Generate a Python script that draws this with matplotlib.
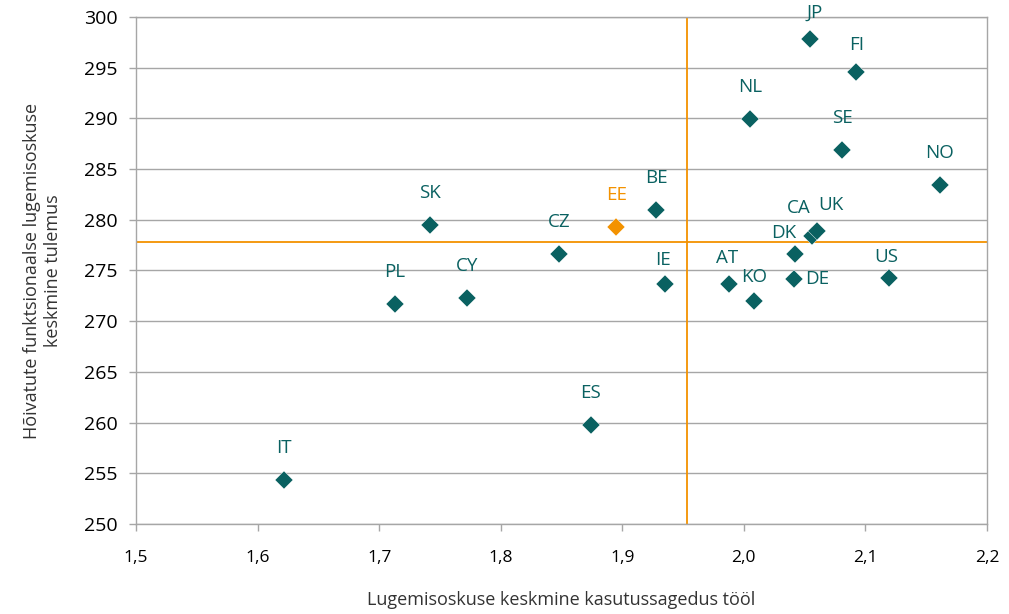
import numpy as np
import matplotlib.pyplot as plt

# riigid ja väärtused (loetud jooniselt)
countries = ['IT', 'PL', 'SK', 'CY', 'CZ', 'ES', 'BE', 'IE', 'AT', 'KO', 'NL',
             'DK', 'DE', 'CA', 'UK', 'JP', 'SE', 'FI', 'US', 'NO']
usage = [1.622, 1.713, 1.742, 1.772, 1.848, 1.874, 1.928, 1.935, 1.988, 2.008,
         2.005, 2.042, 2.041, 2.056, 2.060, 2.054, 2.081, 2.092, 2.119, 2.161]
score = [254.3, 271.7, 279.5, 272.3, 276.6, 259.8, 281.0, 273.7, 273.7, 272.0,
         289.9, 276.6, 274.2, 278.4, 278.9, 297.8, 286.9, 294.6, 274.3, 283.4]
ee_usage = 1.895
ee_score = 279.3
avg_usage = 1.953
avg_score = 277.8

xticks = [1.5, 1.6, 1.7, 1.8, 1.9, 2.0, 2.1, 2.2]
yticks = list(range(250, 301, 5))

teal = '#0A6161'
orange = '#F39200'
grey = '#A6A6A6'

# sildi nihked pikslites (vaikimisi otse üleval)
offsets = {'CA': (-13, 28), 'UK': (14, 26), 'DK': (-11, 21), 'DE': (23, 0),
           'US': (-2, 21), 'AT': (-2, 26), 'KO': (1, 24), 'IE': (-2, 24),
           'JP': (5, 27), 'FI': (1, 27)}

plt.rcParams['font.family'] = ['Open Sans', 'DejaVu Sans']

fig = plt.figure(figsize=(10.09, 6.14), dpi=100)
ax = fig.add_axes([0.1348, 0.1466, 0.8434, 0.8257])

ax.set_xlim(1.5, 2.2)
ax.set_ylim(250, 300)
ax.set_xticks(xticks)
ax.set_xticklabels([f'{t:.1f}'.replace('.', ',') for t in xticks], fontsize=12.5)
ax.set_yticks(yticks)
ax.set_yticklabels([str(t) for t in yticks], fontsize=14)
ax.yaxis.grid(True, color=grey, lw=1)
ax.set_axisbelow(True)
for s in ax.spines.values():
    s.set_color(grey)
    s.set_linewidth(1)
ax.tick_params(axis='both', color=grey, length=5, width=1, direction='out')
ax.tick_params(axis='x', pad=14)
ax.tick_params(axis='y', pad=8)

ax.axvline(avg_usage, color=orange, lw=1.3, zorder=2)
ax.axhline(avg_score, color=orange, lw=1.3, zorder=2)

ax.plot(usage, score, 'D', color=teal, ms=9.5, mec='white', mew=0.3,
        linestyle='none', zorder=3)
ax.plot([ee_usage], [ee_score], 'D', color=orange, ms=9.5, mec='white', mew=0.3,
        zorder=3)

for c, x, y in zip(countries, usage, score):
    dx, dy = offsets.get(c, (0, 32))
    ax.annotate(c, (x, y), xytext=(dx, dy), textcoords='offset pixels',
                ha='center', va='center', color=teal, fontsize=13.5)
ax.annotate('EE', (ee_usage, ee_score), xytext=(0, 32), textcoords='offset pixels',
            ha='center', va='center', color=orange, fontsize=13.5)

ax.set_xlabel('Lugemisoskuse keskmine kasutussagedus tööl', fontsize=13,
              color='#333333', labelpad=18)
ax.set_ylabel('Hõivatute funktsionaalse lugemisoskuse\nkeskmine tulemus',
              fontsize=13, color='#333333', labelpad=16)

plt.savefig('out.png', dpi=100)
